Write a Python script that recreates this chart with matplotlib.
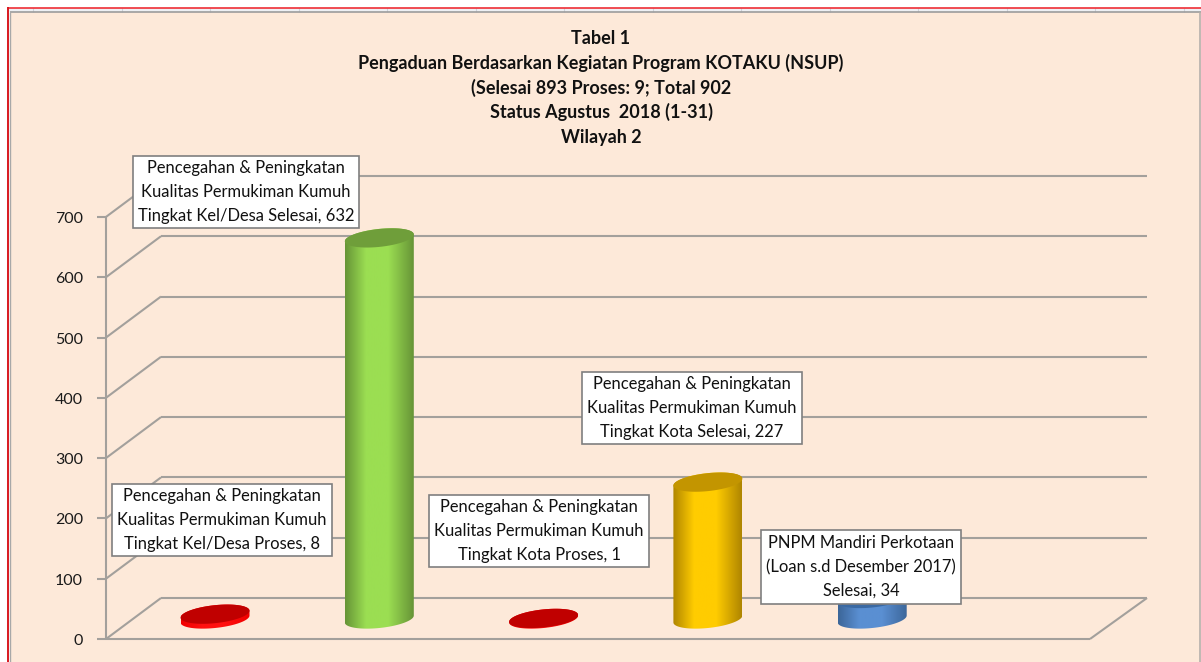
import numpy as np
import matplotlib
matplotlib.use("Agg")
import matplotlib.pyplot as plt
from matplotlib.colors import LinearSegmentedColormap
from matplotlib.patches import PathPatch, Polygon, Rectangle
from matplotlib.path import Path

plt.rcParams["font.family"] = ["Lato", "DejaVu Sans"]

# data
title_lines = [
    "Tabel 1",
    "Pengaduan Berdasarkan Kegiatan Program KOTAKU (NSUP)",
    "(Selesai 893 Proses: 9; Total 902",
    "Status Agustus  2018 (1-31)",
    "Wilayah 2",
]
categories = [
    "Pencegahan & Peningkatan\nKualitas Permukiman Kumuh\nTingkat Kel/Desa Proses",
    "Pencegahan & Peningkatan\nKualitas Permukiman Kumuh\nTingkat Kel/Desa Selesai",
    "Pencegahan & Peningkatan\nKualitas Permukiman Kumuh\nTingkat Kota Proses",
    "Pencegahan & Peningkatan\nKualitas Permukiman Kumuh\nTingkat Kota Selesai",
    "PNPM Mandiri Perkotaan\n(Loan s.d Desember 2017)\nSelesai",
]
values = [8, 632, 1, 227, 34]
y_ticks = [0, 100, 200, 300, 400, 500, 600, 700]

# edge, middle, top colour of each cylinder
bar_edge = ["#f00000", "#679537", "#e00000", "#b08600", "#3c6699"]
bar_mid = ["#ff1010", "#9bde52", "#ff1010", "#ffcc00", "#5a8fd2"]
bar_top = ["#c00000", "#6f9e3a", "#c00000", "#c39500", "#3a69a3"]

# label box centres in pixels of the image
label_pos = [(222, 520), (246, 192), (539, 531), (692, 408), (861, 567)]

W, H = 1201, 662
PX_PER_VALUE = 0.603
ZERO_Y = 639
FRONT_X = 106
RIGHT_X = 1090
DEPTH_X, DEPTH_Y = 55, 41
CAT_X0, CAT_STEP = 215, 164.3
BASE_LIFT = 20
RADIUS_X, RADIUS_Y, TILT = 34.5, 9, 0.1
GRID = "#a3a09c"
BG = "#fde9d9"

fig = plt.figure(figsize=(W / 100, H / 100), dpi=100, facecolor="white")
ax = fig.add_axes([0, 0, 1, 1])
ax.axis("off")
xlim = (-CAT_X0 / CAT_STEP, (W - CAT_X0) / CAT_STEP)
ylim = (-(H - ZERO_Y) / PX_PER_VALUE, ZERO_Y / PX_PER_VALUE)


def px(x, y):
    # image pixel -> data position
    return (x - CAT_X0) / CAT_STEP, (ZERO_Y - y) / PX_PER_VALUE


def line(x0, y0, x1, y1, color=GRID, lw=1.5, z=1):
    a, b = px(x0, y0), px(x1, y1)
    ax.plot([a[0], b[0]], [a[1], b[1]], color=color, lw=lw, zorder=z,
            solid_capstyle="butt")


# page background and the frame of the screenshot
x0, y0 = px(10, H)
x1, y1 = px(1199, 12)
ax.add_patch(Rectangle((x0, y0), x1 - x0, y1 - y0, fc=BG, ec="none", zorder=0))
x0, y0 = px(9, 12)
x1, y1 = px(W, 8)
ax.add_patch(Rectangle((x0, y0), x1 - x0, y1 - y0, fc="#eef0f4", ec="none", zorder=0))
for i in range(14):
    line(33 + 88.5 * i, 8, 33 + 88.5 * i, 12, color="#cfd3da", lw=0.8)
line(8, 7.5, W, 7.5, color="#ee1c25", lw=1.1, z=2)
line(8, 7, 8, H, color="#d8181f", lw=1.4, z=2)
line(10, 12, W, 12, color="#9c9c9c", lw=1.2, z=2)
line(10, 12, 10, H, color="#a8a8a8", lw=1.0, z=2)
line(1200, 12, 1200, H, color="#b5aca4", lw=1.2, z=2)

# walls, floor and axis
for tick in y_ticks:
    y = ZERO_Y - tick * PX_PER_VALUE
    line(97, y, FRONT_X, y)
    line(FRONT_X, y, FRONT_X + DEPTH_X, y - DEPTH_Y)
    line(FRONT_X + DEPTH_X, y - DEPTH_Y, RIGHT_X + DEPTH_X + 2, y - DEPTH_Y)
    ax.text(*px(83, y + 2), str(tick), ha="right", va="center", fontsize=11.5,
            color="#1a1a1a", zorder=3)
line(FRONT_X, ZERO_Y, FRONT_X, ZERO_Y - 700 * PX_PER_VALUE)
line(FRONT_X, ZERO_Y, RIGHT_X, ZERO_Y)
line(RIGHT_X, ZERO_Y, RIGHT_X + DEPTH_X + 2, ZERO_Y - DEPTH_Y)


def ellipse_points(cat, value, start, stop):
    # outline of the tilted disc at this height, in data units
    t = np.linspace(start, stop, 60)
    dx = RADIUS_X * np.cos(t)
    dy = RADIUS_Y * np.sin(t) + TILT * dx + BASE_LIFT
    return np.column_stack([cat + dx / CAT_STEP, value + dy / PX_PER_VALUE])


# cylinders
for i, value in enumerate(values):
    side = np.vstack([
        ellipse_points(i, 0, np.pi, 2 * np.pi),
        ellipse_points(i, value, 0, np.pi),
    ])
    patch = PathPatch(Path(np.vstack([side, side[:1]])), fc="none", ec="none",
                      transform=ax.transData)
    ax.add_patch(patch)
    cmap = LinearSegmentedColormap.from_list(
        "cyl", [bar_edge[i], bar_mid[i], bar_mid[i], bar_edge[i]])
    shade = np.interp(np.linspace(0, 1, 120), [0, 0.5, 1], [0, 0.55, 1])[None, :]
    low = -25 / PX_PER_VALUE
    high = value + 45 / PX_PER_VALUE
    im = ax.imshow(shade, cmap=cmap, aspect="auto", zorder=2, vmin=0, vmax=1,
                   extent=(i - RADIUS_X / CAT_STEP, i + RADIUS_X / CAT_STEP, low, high))
    im.set_clip_path(patch)
    ax.add_patch(Polygon(ellipse_points(i, value, 0, 2 * np.pi), fc=bar_top[i],
                         ec="none", zorder=2.1))

# data labels
for label, value, (lx, ly) in zip(categories, values, label_pos):
    ax.text(*px(lx, ly), f"{label}, {value}", ha="center", va="center",
            fontsize=11.9, color="#111111", linespacing=1.58, zorder=4,
            bbox=dict(boxstyle="square,pad=0.3", fc="white", ec="#7f7f7f", lw=1.2))

# title
for text_line, y in zip(title_lines, [39, 63, 88, 112, 137]):
    ax.text(*px(601, y), text_line, ha="center", va="center", fontsize=13,
            fontweight="bold", color="#111111", zorder=4)

ax.set_xlim(xlim)
ax.set_ylim(ylim)
fig.savefig("out.png", dpi=100, facecolor="white")
